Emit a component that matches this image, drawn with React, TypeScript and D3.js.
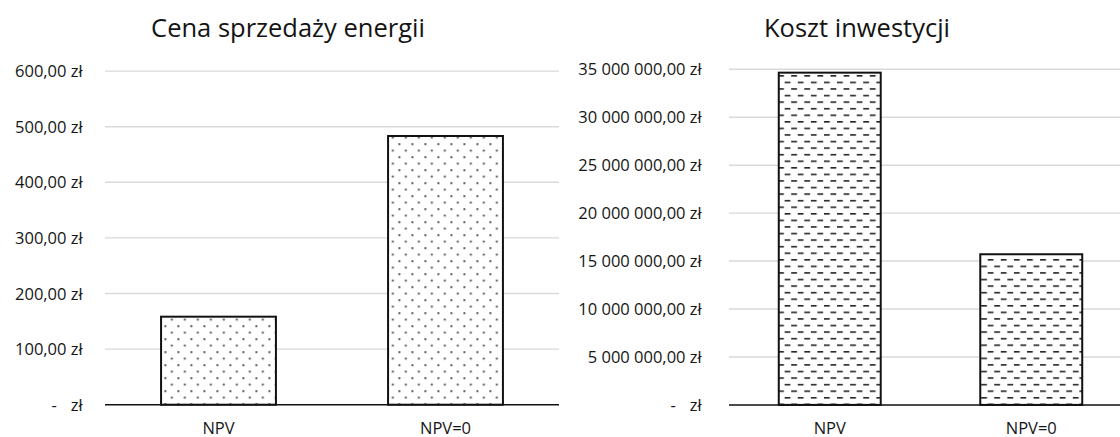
import React from "react";
import * as d3 from "d3";

// Energy selling price chart
const priceCategories = ["NPV", "NPV=0"];
const priceValues = [158.3, 483.3];
const priceTicks = [0, 100, 200, 300, 400, 500, 600];

// Investment cost chart
const costCategories = ["NPV", "NPV=0"];
const costValues = [34650000, 15710000];
const costTicks = [0, 5000000, 10000000, 15000000, 20000000, 25000000, 30000000, 35000000];

const W = 1120;
const H = 437;
const FONT = "'Open Sans', 'Noto Sans', sans-serif";

const plLocale = d3.formatLocale({
  decimal: ",",
  thousands: " ",
  grouping: [3],
  currency: ["", " zł"],
});
const fmt = plLocale.format(",.2f");

type PanelProps = {
  title: string;
  titleX: number;
  categories: string[];
  values: number[];
  ticks: number[];
  xRange: [number, number];
  yRange: [number, number];
  labelRight: number;
  patternId: string;
};

function Panel(p: PanelProps) {
  const max = p.ticks[p.ticks.length - 1];
  const y = d3.scaleLinear().domain([0, max]).range(p.yRange);
  const x = d3
    .scaleBand<string>()
    .domain(p.categories)
    .range(p.xRange)
    .paddingInner(0.494)
    .paddingOuter(0.247);
  const [x0, x1] = p.xRange;
  return (
    <g>
      <text
        x={p.titleX}
        y={37}
        textAnchor="middle"
        fontFamily={FONT}
        fontSize={25.5}
        fill="#141414"
      >
        {p.title}
      </text>
      {p.ticks.map((t) => (
        <g key={t}>
          {t > 0 && (
            <line
              x1={x0}
              x2={x1}
              y1={y(t)}
              y2={y(t)}
              stroke="#d9d9d9"
              strokeWidth={1.4}
            />
          )}
          {t === 0 ? (
            <g fontFamily={FONT} fontSize={16.5} fill="#161616">
              <text x={p.labelRight - 28.5} y={y(t) + 6} textAnchor="middle">
                -
              </text>
              <text x={p.labelRight} y={y(t) + 6} textAnchor="end">
                zł
              </text>
            </g>
          ) : (
            <text
              x={p.labelRight}
              y={y(t) + 6}
              textAnchor="end"
              fontFamily={FONT}
              fontSize={16.5}
              fill="#161616"
            >
              {fmt(t) + " zł"}
            </text>
          )}
        </g>
      ))}
      {p.categories.map((c, i) => (
        <g key={c}>
          <rect
            x={x(c)!}
            y={y(p.values[i])}
            width={x.bandwidth()}
            height={y(0) - y(p.values[i])}
            fill="#ffffff"
          />
          <rect
            x={x(c)!}
            y={y(p.values[i])}
            width={x.bandwidth()}
            height={y(0) - y(p.values[i])}
            fill={`url(#${p.patternId})`}
            stroke="#111"
            strokeWidth={2}
          />
          <text
            x={x(c)! + x.bandwidth() / 2}
            y={433.5}
            textAnchor="middle"
            fontFamily={FONT}
            fontSize={16.5}
            fill="#161616"
          >
            {c}
          </text>
        </g>
      ))}
      <line x1={x0} x2={x1} y1={y(0)} y2={y(0)} stroke="#111" strokeWidth={1.5} />
    </g>
  );
}

export default function App() {
  return (
    <svg
      width={W}
      height={H}
      style={{ position: "absolute", left: 0, top: 0, background: "#fff" }}
    >
      <defs>
        <pattern id="dots" patternUnits="userSpaceOnUse" width={13} height={13} x={392.5} y={143.3}>
          <rect x={6} y={0} width={1.7} height={1.7} fill="#1e1e1e" />
          <rect x={-0.5} y={6.5} width={1.7} height={1.7} fill="#1e1e1e" />
          <rect x={12.5} y={6.5} width={1.7} height={1.7} fill="#1e1e1e" />
        </pattern>
        <pattern id="dashes" patternUnits="userSpaceOnUse" width={13.1} height={13.14} x={987.7} y={259}>
          <rect x={0} y={0} width={5.8} height={1.6} fill="#262626" />
          <rect x={6.55} y={6.57} width={5.8} height={1.6} fill="#262626" />
        </pattern>
      </defs>
      <rect width={W} height={H} fill="#fff" />
      <Panel
        title="Cena sprzedaży energii"
        titleX={288}
        categories={priceCategories}
        values={priceValues}
        ticks={priceTicks}
        xRange={[105, 559]}
        yRange={[404.7, 71.1]}
        labelRight={82.7}
        patternId="dots"
      />
      <Panel
        title="Koszt inwestycji"
        titleX={857}
        categories={costCategories}
        values={costValues}
        ticks={costTicks}
        xRange={[729, 1132]}
        yRange={[404.9, 69.3]}
        labelRight={701.7}
        patternId="dashes"
      />
    </svg>
  );
}
